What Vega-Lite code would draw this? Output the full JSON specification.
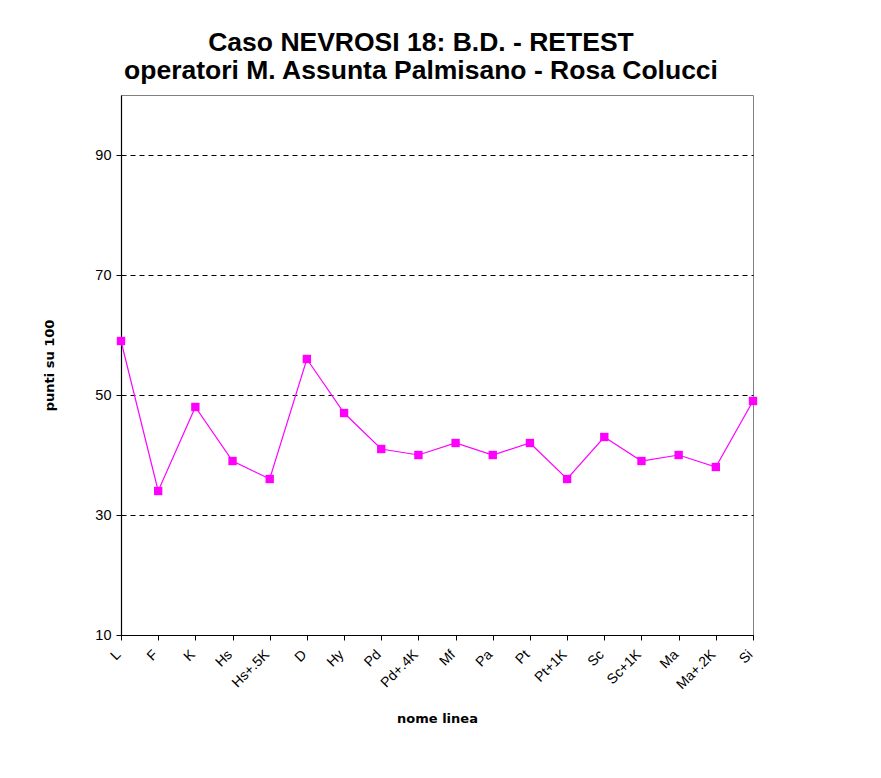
{
  "$schema": "https://vega.github.io/schema/vega-lite/v6.json",
  "width": 632,
  "height": 540,
  "autosize": {"type": "none"},
  "padding": {"left": 121, "top": 95, "right": 128, "bottom": 143},
  "background": "white",
  "title": {
    "text": ["Caso NEVROSI 18: B.D. - RETEST", "operatori M. Assunta Palmisano - Rosa Colucci"],
    "font": "Liberation Sans",
    "fontSize": 26.5,
    "fontWeight": "bold",
    "color": "black",
    "anchor": "middle",
    "dx": -16,
    "offset": 11,
    "lineHeight": 28
  },
  "config": {
    "view": {"stroke": "#808080", "strokeWidth": 1},
    "axis": {
      "labelFont": "Liberation Sans",
      "titleFont": "DejaVu Sans",
      "labelColor": "black",
      "titleColor": "black",
      "domainColor": "black",
      "tickColor": "black",
      "domainWidth": 1.2,
      "tickWidth": 1,
      "tickSize": 5
    }
  },
  "data": {
    "values": [
      {"scala": "L", "punti": 59},
      {"scala": "F", "punti": 34},
      {"scala": "K", "punti": 48},
      {"scala": "Hs", "punti": 39},
      {"scala": "Hs+.5K", "punti": 36},
      {"scala": "D", "punti": 56},
      {"scala": "Hy", "punti": 47},
      {"scala": "Pd", "punti": 41},
      {"scala": "Pd+.4K", "punti": 40},
      {"scala": "Mf", "punti": 42},
      {"scala": "Pa", "punti": 40},
      {"scala": "Pt", "punti": 42},
      {"scala": "Pt+1K", "punti": 36},
      {"scala": "Sc", "punti": 43},
      {"scala": "Sc+1K", "punti": 39},
      {"scala": "Ma", "punti": 40},
      {"scala": "Ma+.2K", "punti": 38},
      {"scala": "Si", "punti": 49}
    ]
  },
  "encoding": {
    "x": {
      "field": "scala",
      "type": "ordinal",
      "sort": null,
      "scale": {"type": "point", "padding": 0},
      "axis": {
        "title": "nome linea",
        "titleFontSize": 13,
        "titleFontWeight": "bold",
        "titlePadding": 21,
        "labelAngle": -45,
        "labelAlign": "right",
        "labelBaseline": "alphabetic",
        "labelFontSize": 14,
        "labelPadding": 15,
        "grid": false
      }
    },
    "y": {
      "field": "punti",
      "type": "quantitative",
      "scale": {"domain": [10, 100], "nice": false},
      "axis": {
        "title": "punti su 100",
        "titleFontSize": 13,
        "titleFontWeight": "bold",
        "titlePadding": 38,
        "values": [10, 30, 50, 70, 90],
        "labelFontSize": 14.5,
        "labelPadding": 5,
        "grid": true,
        "gridColor": "black",
        "gridDash": [5, 4],
        "gridWidth": 1
      }
    }
  },
  "layer": [
    {"mark": {"type": "line", "color": "#FF00FF", "strokeWidth": 1.2}},
    {"mark": {"type": "square", "color": "#FF00FF", "filled": true, "opacity": 1, "size": 70}}
  ]
}
